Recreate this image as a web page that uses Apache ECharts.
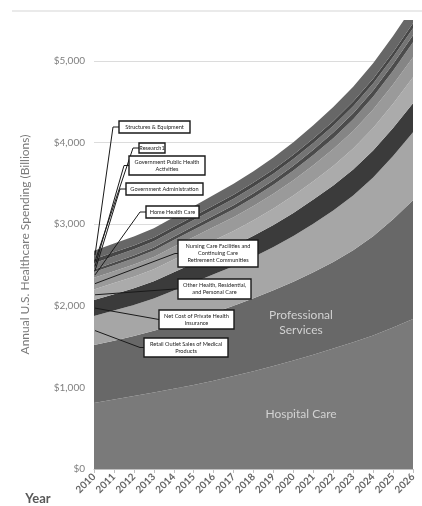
<!DOCTYPE html>
<html><head><meta charset="utf-8">
<script src="https://cdn.jsdelivr.net/npm/echarts@6/dist/echarts.min.js"></script>
<style>html,body{margin:0;padding:0;background:#fff}#c{width:422px;height:506px}</style>
</head><body><div id="c"></div>
<script>
// ---- data (billions of US$) ----
const years = ['2010','2011','2012','2013','2014','2015','2016','2017','2018','2019','2020','2021','2022','2023','2024','2025','2026'];
const hospitalCare      = [808, 850, 893, 937, 982,1030,1082,1138,1198,1262,1330,1400,1475,1553,1636,1733,1836];
const professional      = [710, 722, 737, 755, 778, 805, 833, 862, 894, 928, 965,1010,1060,1127,1214,1327,1457];
const retailOutlet      = [355, 370, 380, 395, 425, 450, 470, 485, 505, 530, 560, 595, 630, 670, 720, 775, 832];
const netCostInsurance  = [196, 200, 205, 212, 225, 235, 242, 250, 260, 270, 282, 295, 308, 320, 332, 343, 355];
const otherResidential  = [130, 135, 140, 147, 155, 163, 172, 180, 190, 200, 212, 225, 240, 255, 275, 295, 318];
const nursingCare       = [143, 146, 149, 152, 156, 160, 165, 170, 176, 182, 189, 197, 206, 216, 227, 236, 245];
const homeHealth        = [ 71,  74,  77,  80,  84,  88,  93,  98, 104, 110, 117, 125, 134, 144, 155, 169, 183];
const govAdministration = [ 30,  32,  34,  36,  39,  42,  45,  48,  51,  55,  59,  63,  68,  73,  78,  82,  86];
const govPublicHealth   = [ 77,  77,  76,  76,  76,  77,  78,  79,  80,  81,  82,  83,  84,  85,  85,  86,  86];
const research          = [ 49,  49,  48,  47,  46,  47,  48,  49,  50,  52,  53,  55,  56,  58,  59,  60,  61];
const structures        = [105, 107, 110, 113, 117, 122, 128, 134, 140, 147, 155, 163, 172, 181, 190, 198, 206];
const yTicks = [0, 1000, 2000, 3000, 4000, 5000];

const seriesDefs = [
  {name:'Hospital Care', data:hospitalCare, color:'#7a7a7a'},
  {name:'Professional Services', data:professional, color:'#686868'},
  {name:'Retail Outlet Sales of Medical Products', data:retailOutlet, color:'#a6a6a6'},
  {name:'Net Cost of Private Health Insurance', data:netCostInsurance, color:'#3b3b3b'},
  {name:'Other Health, Residential, and Personal Care', data:otherResidential, color:'#ababab'},
  {name:'Nursing Care Facilities and Continuing Care Retirement Communities', data:nursingCare, color:'#9a9a9a'},
  {name:'Home Health Care', data:homeHealth, color:'#858585'},
  {name:'Government Administration', data:govAdministration, color:'#4b4b4b'},
  {name:'Government Public Health Activities', data:govPublicHealth, color:'#747474'},
  {name:'Research1', data:research, color:'#464646'},
  {name:'Structures & Equipment', data:structures, color:'#676767'}
];

// callout layout: [seriesIndex, text, left, top, width, height, stub]
const callouts = [
  [10, 'Structures & Equipment', 119, 121, 71, 12, 6],
  [9,  'Research1', 139, 143, 26, 10, 6],
  [8,  'Government Public Health\nActivities', 129, 156, 76, 19, 5],
  [7,  'Government Administration', 126, 183, 77, 12, 6],
  [6,  'Home Health Care', 146, 206, 53, 12, 6],
  [5,  'Nursing Care Facilities and\nContinuing Care\nRetirement Communities', 178, 240, 80, 27, 3],
  [4,  'Other Health, Residential,\nand Personal Care', 178, 279, 73, 20, 3],
  [3,  'Net Cost of Private Health\nInsurance', 159, 310, 75, 19, 0],
  [2,  'Retail Outlet Sales of Medical\nProducts', 144, 338, 84, 19, 4]
];

const chart = echarts.init(document.getElementById('c'), null, {renderer:'canvas'});
const fontFamily = 'Lato, "Open Sans", sans-serif';

const option = {
  animation:false,
  backgroundColor:'#fff',
  grid:{left:94, right:9, top:20, bottom:37},
  xAxis:{
    type:'category', data:years, boundaryGap:false,
    axisLine:{lineStyle:{color:'#bfbfbf', width:1}},
    axisTick:{show:true, length:4, lineStyle:{color:'#bfbfbf'}},
    axisLabel:{rotate:45, interval:0, color:'#666', fontSize:10, fontWeight:'bold', fontFamily:fontFamily, margin:6}
  },
  yAxis:{
    type:'value', min:0, max:5500, interval:1000,
    name:'Annual U.S. Healthcare Spending (Billions)',
    nameLocation:'middle', nameRotate:90, nameGap:63,
    nameTextStyle:{color:'#7a7a7a', fontSize:12, fontFamily:fontFamily},
    axisLine:{show:false}, axisTick:{show:false},
    axisLabel:{color:'#7f7f7f', fontSize:10, fontFamily:fontFamily, margin:9, showMaxLabel:false,
      formatter:function(v){ return yTicks.indexOf(v) >= 0 ? '$' + v.toLocaleString('en-US') : ''; }},
    splitLine:{show:true, showMaxLine:false, lineStyle:{color:'#dcdcdc', width:1}}
  },
  series: seriesDefs.map(function(s){
    return {
      name:s.name, type:'line', stack:'total', data:s.data,
      showSymbol:false, symbol:'none', smooth:false,
      lineStyle:{width:0}, areaStyle:{color:s.color, opacity:1},
      itemStyle:{color:s.color}, emphasis:{disabled:true}, clip:true
    };
  })
};
chart.setOption(option);

// cumulative values at 2010 for callout anchors
const cum = [];
let run = 0;
seriesDefs.forEach(function(s){ const lo = run; run += s.data[0]; cum.push([lo, run]); });

const graphics = [];
graphics.push({type:'line', shape:{x1:12, y1:11, x2:422, y2:11}, style:{stroke:'#e3e3e3', lineWidth:1.5}, z:50});
graphics.push({type:'text', x:38, y:499, style:{text:'Year', fill:'#595959', font:'bold 13px ' + fontFamily, align:'center', verticalAlign:'middle'}, z:50});
graphics.push({type:'text', x:301, y:323, style:{text:'Professional\nServices', fill:'#d2d2d2', font:'12px ' + fontFamily, align:'center', verticalAlign:'middle', lineHeight:15}, z:50});
graphics.push({type:'text', x:301, y:414, style:{text:'Hospital Care', fill:'#d2d2d2', font:'12px ' + fontFamily, align:'center', verticalAlign:'middle'}, z:50});

callouts.forEach(function(c){
  const idx = c[0];
  const mid = (cum[idx][0] + cum[idx][1]) / 2;
  const p = chart.convertToPixel({xAxisIndex:0, yAxisIndex:0}, [0, mid]);
  const left = c[2], top = c[3], w = c[4], h = c[5], stub = c[6];
  const my = top + h / 2;
  const pts = [[left, my]];
  if (stub > 0) pts.push([left - stub, my]);
  pts.push([p[0] + 1, p[1]]);
  graphics.push({type:'polyline', shape:{points:pts}, style:{stroke:'#1a1a1a', lineWidth:1, fill:null}, z:60});
  graphics.push({type:'rect', shape:{x:left, y:top, width:w, height:h}, style:{fill:'#fff', stroke:'#1a1a1a', lineWidth:1.4}, z:61});
  graphics.push({type:'text', x:left + w / 2, y:my, style:{text:c[1], fill:'#222', font:'5.6px ' + fontFamily, align:'center', verticalAlign:'middle', lineHeight:7}, z:62});
});

chart.setOption({graphic:{elements:graphics}});
</script>
</body></html>
